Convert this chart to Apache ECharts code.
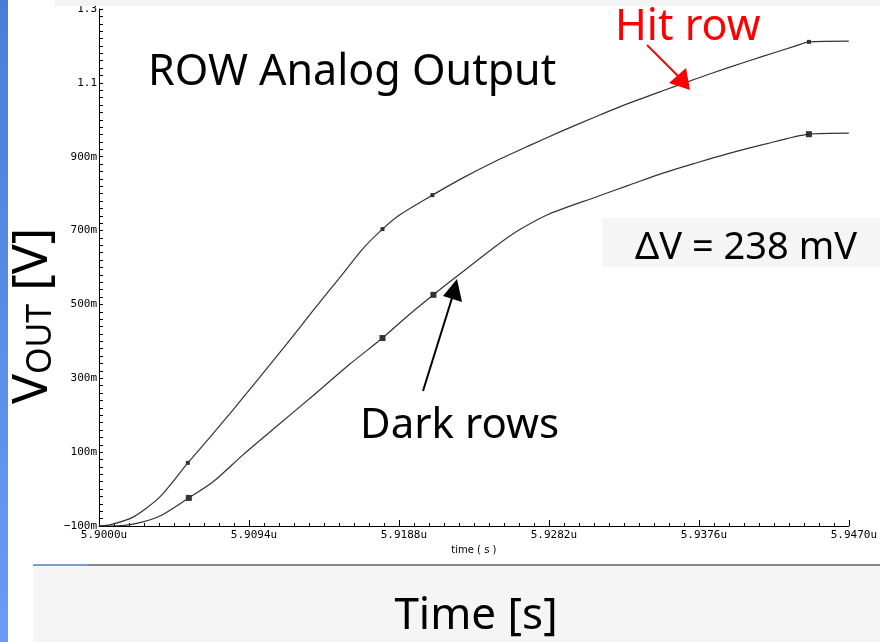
<!DOCTYPE html>
<html>
<head>
<meta charset="utf-8">
<script src="https://cdn.jsdelivr.net/npm/echarts@6/dist/echarts.min.js"></script>
<style>
html, body { margin: 0; padding: 0; background: #fff; }
#main { width: 880px; height: 642px; }
</style>
</head>
<body>
<div id="main"></div>
<script>
// time is in ns after 5.9000u, voltage in mV
var hitTime = [0, 0.69, 2.13, 3.82, 5.57, 6.95, 8.39, 9.89, 11.77, 13.39, 15.08, 16.52, 17.77, 18.84, 20.90, 22.78, 24.91, 26.97, 29.04, 31.17, 33.23, 35.30, 37.43, 39.49, 41.55, 43.68, 44.50, 47.00];
var hitVolt = [-100, -97, -76, -21, 71, 140, 214, 293, 393, 482, 572, 650, 704, 742, 796, 842, 889, 930, 970, 1009, 1045, 1078, 1111, 1142, 1171, 1200, 1211, 1213];
var hitMarks = [4, 12, 14, 26];

var darkTime = [0, 0.69, 2.13, 3.82, 5.63, 7.13, 9.01, 11.14, 13.39, 15.71, 17.77, 19.27, 20.96, 22.78, 24.91, 26.35, 28.22, 31.16, 33.23, 35.30, 37.42, 39.49, 41.55, 44.50, 47.00];
var darkVolt = [-100, -100, -95, -73, -24, 19, 92, 170, 252, 338, 409, 466, 526, 588, 659, 702, 745, 791, 823, 855, 883, 909, 932, 961, 964];
var darkMarks = [4, 10, 12, 23];

var xTickLabels = ['5.9000u', '5.9094u', '5.9188u', '5.9282u', '5.9376u', '5.9470u'];
var yTickValues = [-100, 100, 300, 500, 700, 900, 1100, 1300];
var yTickLabels = ['\u2212100m', '100m', '300m', '500m', '700m', '900m', '1.1', '1.3'];

function pairs(t, v) {
    return t.map(function (x, i) { return [x, v[i]]; });
}
function marks(t, v, idx) {
    return idx.map(function (i) { return [t[i], v[i]]; });
}

var chart = echarts.init(document.getElementById('main'));
var hand = '"Comic Sans MS", "Noto Sans", sans-serif';

chart.setOption({
    animation: false,
    backgroundColor: '#fff',
    grid: { left: 99, right: 30, top: 9, bottom: 116, containLabel: false },
    xAxis: {
        type: 'value',
        min: 0,
        max: 47,
        interval: 9.4,
        axisLine: { show: true, onZero: false, lineStyle: { color: '#000', width: 1 } },
        axisTick: { show: true, inside: true, length: 6, lineStyle: { color: '#000' } },
        minorTick: { show: true, splitNumber: 10, length: 3, lineStyle: { color: '#000' } },
        splitLine: { show: false },
        axisLabel: {
            color: '#000',
            fontFamily: 'DejaVu Sans Mono',
            fontSize: 11,
            margin: 4,
            padding: [0, 0, 0, 10],
            formatter: function (v) { return xTickLabels[Math.round(v / 9.4)]; }
        },
        name: 'time ( s )',
        nameLocation: 'middle',
        nameGap: 17,
        nameTextStyle: { color: '#000', fontFamily: 'DejaVu Sans', fontSize: 10 }
    },
    yAxis: {
        type: 'value',
        min: -100,
        max: 1300,
        interval: 20,
        axisLine: { show: true, onZero: false, lineStyle: { color: '#000', width: 1 } },
        axisTick: { show: true, inside: true, length: 4, lineStyle: { color: '#000' } },
        splitLine: { show: false },
        axisLabel: {
            color: '#000',
            fontFamily: 'DejaVu Sans Mono',
            fontSize: 11,
            margin: 2,
            formatter: function (v) {
                var i = yTickValues.indexOf(Math.round(v));
                return i < 0 ? '' : yTickLabels[i];
            }
        }
    },
    series: [
        {
            name: 'Hit row', type: 'line', data: pairs(hitTime, hitVolt),
            symbol: 'none', smooth: 0.25,
            lineStyle: { color: '#333', width: 1.2 }
        },
        {
            name: 'Dark rows', type: 'line', data: pairs(darkTime, darkVolt),
            symbol: 'none', smooth: 0.25,
            lineStyle: { color: '#333', width: 1.2 }
        },
        {
            type: 'scatter', data: marks(hitTime, hitVolt, hitMarks),
            symbol: 'rect', symbolSize: 4, itemStyle: { color: '#000' }
        },
        {
            type: 'scatter', data: marks(darkTime, darkVolt, darkMarks),
            symbol: 'rect', symbolSize: 6, itemStyle: { color: '#000' }
        }
    ],
    graphic: [
        // left blue strip
        { type: 'rect', z: 100, shape: { x: 0, y: 0, width: 8, height: 642 },
          style: { fill: new echarts.graphic.LinearGradient(0, 0, 0, 1, [
              { offset: 0, color: '#4a7dd6' }, { offset: 1, color: '#6a9cf6' }]) } },
        // top band
        { type: 'rect', z: 100, shape: { x: 55, y: 0, width: 825, height: 6 }, style: { fill: '#f3f3f3' } },
        // bottom panel
        { type: 'rect', z: 100, shape: { x: 33, y: 566, width: 847, height: 76 }, style: { fill: '#f5f5f5' } },
        { type: 'line', z: 101, shape: { x1: 33, y1: 565, x2: 880, y2: 565 }, style: { stroke: '#5c5c6c', lineWidth: 1.5 } },
        { type: 'line', z: 102, shape: { x1: 33, y1: 565, x2: 88, y2: 565 }, style: { stroke: '#7ba3e8', lineWidth: 1.5 } },
        { type: 'text', z: 103, x: 476, y: 616,
          style: { text: 'Time [s]', font: '44px ' + hand, fill: '#000', textAlign: 'center', textVerticalAlign: 'middle' } },
        // y title
        { type: 'text', z: 103, x: 33, y: 316, rotation: Math.PI / 2,
          style: {
              text: '{v|V}{s|OUT}{v| [V]}',
              textAlign: 'center', textVerticalAlign: 'middle', fill: '#000',
              rich: {
                  v: { fontSize: 50, fontFamily: hand, fill: '#000' },
                  s: { fontSize: 34, fontFamily: hand, fill: '#000', verticalAlign: 'bottom' }
              }
          } },
        // titles and notes
        { type: 'text', z: 103, x: 148, y: 73,
          style: { text: 'ROW Analog Output', font: '43px ' + hand, fill: '#000', textAlign: 'left', textVerticalAlign: 'middle' } },
        { type: 'text', z: 103, x: 615, y: 28,
          style: { text: 'Hit row', font: '43px ' + hand, fill: '#ff0000', textAlign: 'left', textVerticalAlign: 'middle' } },
        { type: 'text', z: 103, x: 360, y: 426,
          style: { text: 'Dark rows', font: '42px ' + hand, fill: '#000', textAlign: 'left', textVerticalAlign: 'middle' } },
        { type: 'rect', z: 100, shape: { x: 602, y: 218, width: 278, height: 49 }, style: { fill: '#f5f5f5' } },
        { type: 'text', z: 103, x: 746, y: 248,
          style: { text: '\u0394V = 238 mV', font: '38px ' + hand, fill: '#000', textAlign: 'center', textVerticalAlign: 'middle' } },
        // arrows
        { type: 'line', z: 103, shape: { x1: 647, y1: 45, x2: 679, y2: 77 }, style: { stroke: '#ff0000', lineWidth: 2 } },
        { type: 'polygon', z: 103, shape: { points: [[690, 90], [669, 83], [686, 68]] }, style: { fill: '#ff0000' } },
        { type: 'line', z: 103, shape: { x1: 423, y1: 391, x2: 452, y2: 298 }, style: { stroke: '#000', lineWidth: 2 } },
        { type: 'polygon', z: 103, shape: { points: [[457, 279], [443, 296], [462, 302]] }, style: { fill: '#000' } }
    ]
});
</script>
</body>
</html>
